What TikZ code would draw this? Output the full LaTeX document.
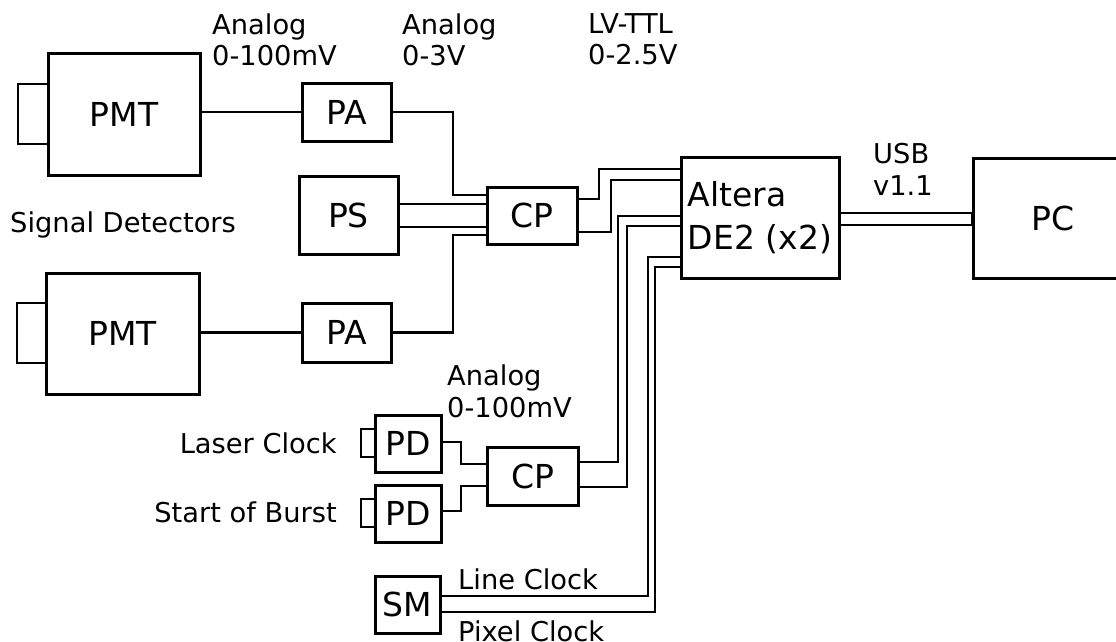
\documentclass[tikz,border=0pt]{standalone}
\usepackage{fontspec}
\setmainfont{DejaVu Sans}
\newcommand\bxfont{\fontsize{33}{43}\selectfont}
\newcommand\lblfont{\fontsize{27.3}{31.5}\selectfont}
\begin{document}
\begin{tikzpicture}[x=1pt,y=-1pt,
  box/.style={draw, line width=3pt, inner sep=0pt, font=\bxfont, align=left},
  sz/.style 2 args={minimum width=#1pt, minimum height=#2pt},
  win/.style={draw, line width=2.8pt, inner sep=0pt},
  wire/.style={line width=2.5pt},
  pair/.style={line width=2.1pt},
  usb/.style={line width=1.6pt},
  lbl/.style={font=\lblfont, inner sep=0pt, align=left}]
\useasboundingbox (0,0) rectangle (1116,642);

% boxes
\node[box, sz={152}{121}] (pmt1) at (124,114.5) {PMT};
\node[win, sz={30}{60}] (w1) at (33,114) {};
\node[box, sz={153}{121}] (pmt2) at (122.5,333.5) {PMT};
\node[win, sz={29}{60}] (w2) at (31.5,333) {};
\node[box, sz={89}{58}] (pa1) at (346.5,112) {PA};
\node[box, sz={89}{59}] (pa2) at (346.5,332.5) {PA};
\node[box, sz={99}{78}] (ps) at (348.5,215) {PS};
\node[box, sz={90}{57}] (cp1) at (532,215.5) {CP};
\node[box, sz={158}{121}] (altera) at (760,217.5) {Altera\\DE2 (x2)};
\node[box, sz={160}{120}] (pc) at (1053,218) {PC};
\node[box, sz={66}{57}] (pd1) at (408,443.5) {PD};
\node[win, sz={14}{28}] (w3) at (368,443) {};
\node[box, sz={66}{57}] (pd2) at (408,513.5) {PD};
\node[win, sz={14}{28}] (w4) at (368,513) {};
\node[box, sz={91}{58}] (cp2) at (532.5,476) {CP};
\node[box, sz={65}{57}] (sm) at (407.5,604.5) {SM};

% connectors
\draw[wire] (pmt1.east |- pa1.west) -- (pa1.west);
\draw[wire] (pmt2.east |- pa2.west) -- (pa2.west);
\draw[wire] (pa1.east) -| (453,195) -- (cp1.west |- 0,195);
\draw[wire] (pa2.east) -| (453,235) -- (cp1.west |- 0,235);
\draw[pair] (ps.east |- 0,204) -- (cp1.west |- 0,204);
\draw[pair] (ps.east |- 0,227) -- (cp1.west |- 0,227);
\draw[wire] (cp1.east |- 0,199) -| (599,169) -- (altera.west |- 0,169);
\draw[wire] (cp1.east |- 0,232) -| (611,180) -- (altera.west |- 0,180);
\draw[wire] (cp2.east |- 0,462) -| (618,216) -- (altera.west |- 0,216);
\draw[wire] (cp2.east |- 0,487) -| (627,226) -- (altera.west |- 0,226);
\draw[wire] (sm.east |- 0,596) -| (648,257) -- (altera.west |- 0,257);
\draw[wire] (sm.east |- 0,612) -| (655,267) -- (altera.west |- 0,267);
\draw[wire] (pd1.east |- 0,442) -| (461,464) -- (cp2.west |- 0,464);
\draw[wire] (pd2.east |- 0,511) -| (461,486) -- (cp2.west |- 0,486);
\draw[usb] (altera.east |- 0,213) rectangle (pc.west |- 0,225);

% labels (anchored at the baseline of their last line)
\node[lbl, anchor=base west] (l1) at (212,65.5) {Analog\\0-100mV};
\node[lbl, anchor=base west] (l2) at (402,65.5) {Analog\\0-3V};
\node[lbl, anchor=base west] (l3) at (588,65) {LV-TTL\\0-2.5V};
\node[lbl, anchor=base west] (l4) at (873,195) {USB\\v1.1};
\node[lbl, anchor=base west] (l5) at (10,232) {Signal Detectors};
\node[lbl, anchor=base west] (l6) at (447,417) {Analog\\0-100mV};
\node[lbl, anchor=base east] (l7) at (337,453) {Laser Clock};
\node[lbl, anchor=base east] (l8) at (337,522) {Start of Burst};
\node[lbl, anchor=base west] (l9) at (458,589.5) {Line Clock};
\node[lbl, anchor=base west] (l10) at (458,641) {Pixel Clock};
\end{tikzpicture}
\end{document}
